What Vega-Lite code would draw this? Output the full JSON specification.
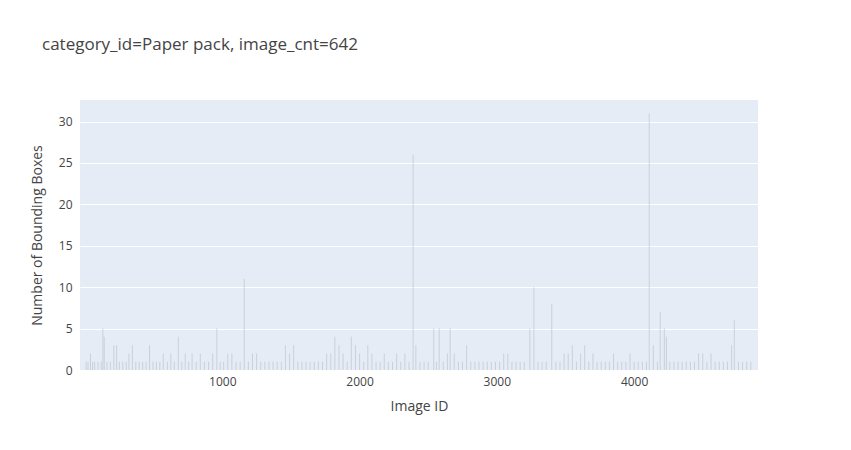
{
  "$schema": "https://vega.github.io/schema/vega-lite/v6.json",
  "width": 678,
  "height": 270,
  "autosize": "none",
  "padding": {"left": 80, "top": 100, "right": 81, "bottom": 80},
  "background": "white",
  "title": {
    "text": "category_id=Paper pack, image_cnt=642",
    "anchor": "start",
    "frame": "group",
    "dx": -38,
    "offset": 46,
    "font": "Open Sans",
    "fontSize": 17,
    "fontWeight": "normal",
    "color": "#444"
  },
  "config": {
    "view": {"fill": "#E5ECF6", "stroke": null},
    "axis": {
      "labelFont": "Open Sans", "titleFont": "Open Sans",
      "labelFontSize": 12, "titleFontSize": 14, "titleFontWeight": "normal",
      "labelColor": "#444", "titleColor": "#444",
      "domain": false, "ticks": false, "gridColor": "white", "gridWidth": 1
    }
  },
  "data": {
    "values": [
      {"id": 8, "n": 1}, {"id": 22, "n": 1}, {"id": 40, "n": 2}, {"id": 55, "n": 1}, {"id": 70, "n": 1},
      {"id": 95, "n": 1}, {"id": 118, "n": 1}, {"id": 130, "n": 5}, {"id": 140, "n": 4}, {"id": 160, "n": 1},
      {"id": 185, "n": 1}, {"id": 210, "n": 3}, {"id": 230, "n": 3}, {"id": 250, "n": 1}, {"id": 275, "n": 1},
      {"id": 300, "n": 1}, {"id": 320, "n": 2}, {"id": 345, "n": 3}, {"id": 370, "n": 1}, {"id": 395, "n": 1},
      {"id": 420, "n": 1}, {"id": 445, "n": 1}, {"id": 470, "n": 3}, {"id": 495, "n": 1}, {"id": 520, "n": 1},
      {"id": 545, "n": 1}, {"id": 570, "n": 2}, {"id": 600, "n": 1}, {"id": 625, "n": 2}, {"id": 650, "n": 1},
      {"id": 680, "n": 4}, {"id": 705, "n": 1}, {"id": 730, "n": 2}, {"id": 755, "n": 1}, {"id": 780, "n": 2},
      {"id": 810, "n": 1}, {"id": 840, "n": 2}, {"id": 870, "n": 1}, {"id": 900, "n": 1}, {"id": 930, "n": 2},
      {"id": 960, "n": 5}, {"id": 985, "n": 1}, {"id": 1010, "n": 1}, {"id": 1040, "n": 2}, {"id": 1070, "n": 2},
      {"id": 1100, "n": 1}, {"id": 1130, "n": 1}, {"id": 1160, "n": 11}, {"id": 1190, "n": 1}, {"id": 1220, "n": 2},
      {"id": 1250, "n": 2}, {"id": 1280, "n": 1}, {"id": 1310, "n": 1}, {"id": 1340, "n": 1}, {"id": 1370, "n": 1},
      {"id": 1400, "n": 1}, {"id": 1430, "n": 1}, {"id": 1460, "n": 3}, {"id": 1490, "n": 2}, {"id": 1520, "n": 3},
      {"id": 1550, "n": 1}, {"id": 1580, "n": 1}, {"id": 1610, "n": 1}, {"id": 1640, "n": 1}, {"id": 1670, "n": 1},
      {"id": 1700, "n": 1}, {"id": 1730, "n": 1}, {"id": 1760, "n": 2}, {"id": 1790, "n": 2}, {"id": 1820, "n": 4},
      {"id": 1850, "n": 3}, {"id": 1880, "n": 2}, {"id": 1910, "n": 1}, {"id": 1940, "n": 4}, {"id": 1970, "n": 3},
      {"id": 2000, "n": 2}, {"id": 2030, "n": 1}, {"id": 2060, "n": 3}, {"id": 2090, "n": 2}, {"id": 2120, "n": 1},
      {"id": 2150, "n": 1}, {"id": 2180, "n": 2}, {"id": 2210, "n": 1}, {"id": 2240, "n": 1}, {"id": 2270, "n": 2},
      {"id": 2300, "n": 1}, {"id": 2330, "n": 2}, {"id": 2360, "n": 1}, {"id": 2390, "n": 26}, {"id": 2410, "n": 3},
      {"id": 2440, "n": 1}, {"id": 2470, "n": 1}, {"id": 2500, "n": 1}, {"id": 2540, "n": 5}, {"id": 2560, "n": 1},
      {"id": 2580, "n": 5}, {"id": 2610, "n": 1}, {"id": 2640, "n": 2}, {"id": 2660, "n": 5}, {"id": 2690, "n": 2},
      {"id": 2720, "n": 1}, {"id": 2750, "n": 1}, {"id": 2780, "n": 3}, {"id": 2810, "n": 1}, {"id": 2840, "n": 1},
      {"id": 2870, "n": 1}, {"id": 2900, "n": 1}, {"id": 2930, "n": 1}, {"id": 2960, "n": 1}, {"id": 2990, "n": 1},
      {"id": 3020, "n": 1}, {"id": 3050, "n": 2}, {"id": 3080, "n": 2}, {"id": 3110, "n": 1}, {"id": 3140, "n": 1},
      {"id": 3170, "n": 1}, {"id": 3200, "n": 1}, {"id": 3240, "n": 5}, {"id": 3270, "n": 10}, {"id": 3300, "n": 1},
      {"id": 3330, "n": 1}, {"id": 3360, "n": 1}, {"id": 3400, "n": 8}, {"id": 3430, "n": 1}, {"id": 3460, "n": 1},
      {"id": 3490, "n": 2}, {"id": 3520, "n": 2}, {"id": 3550, "n": 3}, {"id": 3580, "n": 1}, {"id": 3610, "n": 2},
      {"id": 3640, "n": 3}, {"id": 3670, "n": 1}, {"id": 3700, "n": 2}, {"id": 3730, "n": 1}, {"id": 3760, "n": 1},
      {"id": 3790, "n": 1}, {"id": 3820, "n": 1}, {"id": 3850, "n": 2}, {"id": 3880, "n": 1}, {"id": 3910, "n": 1},
      {"id": 3940, "n": 1}, {"id": 3970, "n": 2}, {"id": 4000, "n": 1}, {"id": 4030, "n": 1}, {"id": 4060, "n": 1},
      {"id": 4090, "n": 1}, {"id": 4110, "n": 31}, {"id": 4140, "n": 3}, {"id": 4170, "n": 1}, {"id": 4190, "n": 7},
      {"id": 4220, "n": 5}, {"id": 4235, "n": 4}, {"id": 4260, "n": 1}, {"id": 4290, "n": 1}, {"id": 4320, "n": 1},
      {"id": 4350, "n": 1}, {"id": 4380, "n": 1}, {"id": 4410, "n": 1}, {"id": 4440, "n": 1}, {"id": 4470, "n": 2},
      {"id": 4500, "n": 2}, {"id": 4530, "n": 1}, {"id": 4560, "n": 2}, {"id": 4590, "n": 1}, {"id": 4620, "n": 1},
      {"id": 4650, "n": 1}, {"id": 4680, "n": 1}, {"id": 4710, "n": 3}, {"id": 4730, "n": 6}, {"id": 4760, "n": 1},
      {"id": 4790, "n": 1}, {"id": 4820, "n": 1}, {"id": 4850, "n": 1}
    ]
  },
  "mark": {"type": "bar", "size": 1, "color": "#c3c9d4", "opacity": 0.8},
  "encoding": {
    "x": {
      "field": "id", "type": "quantitative", "title": "Image ID",
      "scale": {"domain": [0, 4866], "nice": false, "zero": false},
      "axis": {"values": [1000, 2000, 3000, 4000], "format": "d", "grid": false, "labelPadding": 6, "titlePadding": 12}
    },
    "y": {
      "field": "n", "type": "quantitative", "title": "Number of Bounding Boxes",
      "scale": {"domain": [0, 32.6], "nice": false},
      "axis": {"values": [0, 5, 10, 15, 20, 25, 30], "labelPadding": 8, "titlePadding": 14}
    }
  }
}
